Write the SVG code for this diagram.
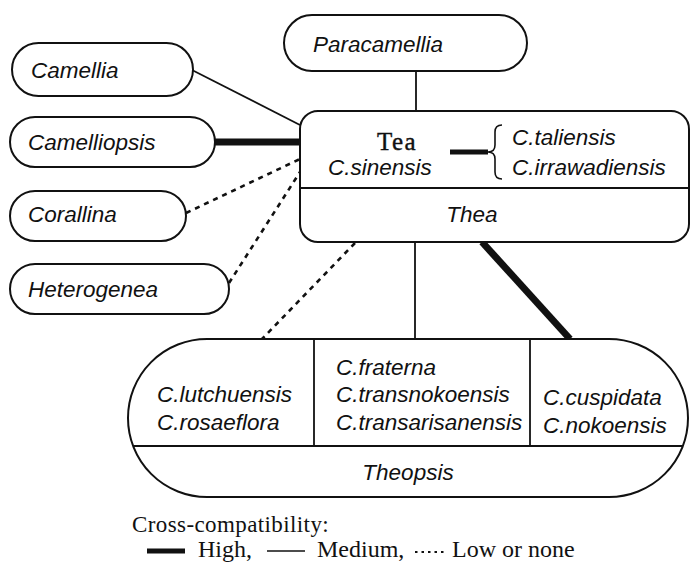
<svg xmlns="http://www.w3.org/2000/svg" width="691" height="562" viewBox="0 0 691 562">
<style>
.box{fill:#fff;stroke:#111;stroke-width:2}
.t{font-family:"Liberation Sans",Arial,sans-serif;font-style:italic;font-size:22.5px;fill:#111}
.s{font-family:"Liberation Serif","Times New Roman",serif;font-size:24px;fill:#111}
.med{stroke:#111;stroke-width:1.8;fill:none}
.high{stroke:#111;stroke-width:7;fill:none}
.low{stroke:#111;stroke-width:2.6;stroke-dasharray:5 5;fill:none}
</style>
<rect width="691" height="562" fill="#fff"/>
<g id="connectors">
<line class="med" x1="416" y1="71" x2="416" y2="111"/>
<line class="med" x1="192" y1="70" x2="300" y2="125"/>
<line class="high" x1="215" y1="142" x2="300" y2="142"/>
<line class="low" x1="186" y1="213" x2="300" y2="159"/>
<line class="low" x1="229" y1="283" x2="300" y2="172"/>
<line class="low" x1="355" y1="243" x2="262" y2="339"/>
<line class="med" x1="415" y1="242" x2="415" y2="339"/>
<line class="high" x1="482" y1="242" x2="570" y2="339"/>
</g>
<g id="paracamellia">
<rect class="box" x="284" y="15" width="243" height="56" rx="28"/>
<text class="t" x="313" y="52">Paracamellia</text>
</g>
<g id="camellia">
<rect class="box" x="12" y="43" width="181" height="53" rx="26.5"/>
<text class="t" x="31" y="78">Camellia</text>
</g>
<g id="camelliopsis">
<rect class="box" x="10" y="117" width="205" height="50" rx="25"/>
<text class="t" x="28" y="150">Camelliopsis</text>
</g>
<g id="corallina">
<rect class="box" x="10" y="191" width="176" height="50" rx="25"/>
<text class="t" x="28" y="222">Corallina</text>
</g>
<g id="heterogenea">
<rect class="box" x="10" y="264" width="219" height="50" rx="25"/>
<text class="t" x="28" y="297">Heterogenea</text>
</g>
<g id="thea">
<rect class="box" x="300" y="111" width="389" height="131" rx="18"/>
<line class="med" x1="300" y1="188" x2="689" y2="188"/>
<text x="377" y="150" style="font-family:'Liberation Serif',serif;font-size:25px;letter-spacing:1.5px;fill:#111;stroke:#111;stroke-width:0.4">Tea</text>
<text class="t" x="328" y="175">C.sinensis</text>
<line x1="450" y1="152" x2="488" y2="152" stroke="#111" stroke-width="5"/>
<path d="M502 125 Q495 125 495 132 L495 145 Q495 152 488 152 Q495 152 495 159 L495 172 Q495 179 502 179" fill="none" stroke="#111" stroke-width="1.6"/>
<text class="t" x="512" y="145">C.taliensis</text>
<text class="t" x="512" y="175">C.irrawadiensis</text>
<text class="t" x="472" y="222" text-anchor="middle">Thea</text>
</g>
<g id="theopsis">
<rect class="box" x="128" y="339" width="560" height="158" rx="79"/>
<line class="med" x1="133" y1="446" x2="683" y2="446"/>
<line class="med" x1="314" y1="339" x2="314" y2="446"/>
<line class="med" x1="530" y1="339" x2="530" y2="446"/>
<text class="t" x="157" y="402">C.lutchuensis</text>
<text class="t" x="157" y="430">C.rosaeflora</text>
<text class="t" x="336" y="375">C.fraterna</text>
<text class="t" x="336" y="402">C.transnokoensis</text>
<text class="t" x="336" y="430">C.transarisanensis</text>
<text class="t" x="543" y="405">C.cuspidata</text>
<text class="t" x="543" y="433">C.nokoensis</text>
<text class="t" x="408" y="480" text-anchor="middle">Theopsis</text>
</g>
<g id="legend">
<text class="s" x="132" y="532" style="font-size:23px;letter-spacing:0.4px">Cross-compatibility:</text>
<line x1="147" y1="551" x2="185" y2="551" stroke="#111" stroke-width="5"/>
<text class="s" x="198" y="557">High,</text>
<line x1="267" y1="551" x2="305" y2="551" stroke="#111" stroke-width="1.5"/>
<text class="s" x="317" y="557">Medium,</text>
<line x1="415" y1="552" x2="447" y2="552" stroke="#111" stroke-width="2" stroke-dasharray="2.5 4"/>
<text class="s" x="452" y="557">Low or none</text>
</g>
</svg>
